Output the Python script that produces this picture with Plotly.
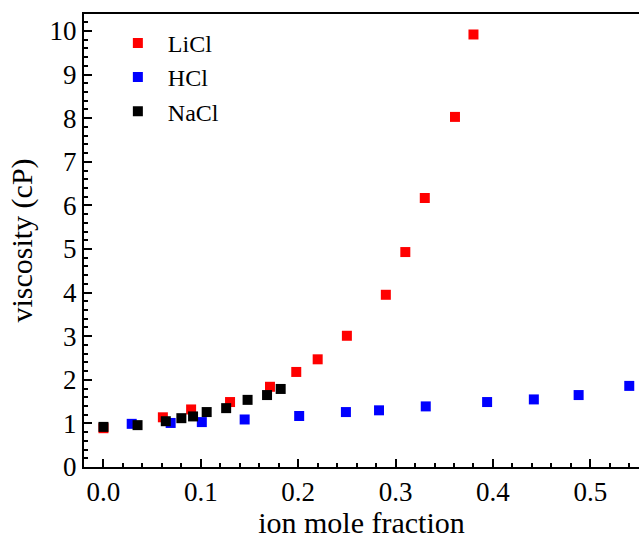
import plotly.graph_objects as go

licl_x = [0.0, 0.061, 0.090, 0.130, 0.171, 0.198, 0.220, 0.250, 0.290, 0.310, 0.330, 0.361, 0.380]
licl_y = [0.89, 1.14, 1.32, 1.49, 1.84, 2.18, 2.47, 3.01, 3.95, 4.93, 6.17, 8.03, 9.92]

hcl_x = [0.029, 0.069, 0.101, 0.145, 0.201, 0.249, 0.283, 0.331, 0.394, 0.442, 0.488, 0.540]
hcl_y = [0.99, 1.01, 1.03, 1.09, 1.17, 1.26, 1.30, 1.39, 1.49, 1.55, 1.65, 1.86]

nacl_x = [0.0, 0.035, 0.064, 0.080, 0.092, 0.106, 0.126, 0.148, 0.168, 0.182]
nacl_y = [0.92, 0.96, 1.05, 1.12, 1.16, 1.26, 1.35, 1.54, 1.65, 1.79]

x_ticks = [0.0, 0.1, 0.2, 0.3, 0.4, 0.5]
x_tick_labels = ["0.0", "0.1", "0.2", "0.3", "0.4", "0.5"]
y_ticks = list(range(0, 11))

FONT = "Liberation Serif, Times New Roman, serif"

fig = go.Figure()
for name, xs, ys, col in [("LiCl", licl_x, licl_y, "#ff0000"),
                          ("HCl", hcl_x, hcl_y, "#0000ff"),
                          ("NaCl", nacl_x, nacl_y, "#000000")]:
    fig.add_trace(go.Scatter(x=xs, y=ys, mode="markers", name=name,
                             marker=dict(symbol="square", size=10, color=col,
                                         line=dict(width=0))))

axis_common = dict(showline=True, linecolor="black", linewidth=2, ticks="inside",
                   tickwidth=2, ticklen=8, tickcolor="black", showgrid=False,
                   zeroline=False, tickfont=dict(family=FONT, size=27, color="black"))

fig.update_layout(
    width=639, height=539,
    margin=dict(l=84, r=0, t=14, b=72),
    paper_bgcolor="white", plot_bgcolor="white",
    font=dict(family=FONT, color="black"),
    xaxis=dict(range=[-0.02, 0.55], tickvals=x_ticks, ticktext=x_tick_labels,
               mirror=True,
               minor=dict(dtick=0.02, tick0=0, ticks="inside", ticklen=4,
                          tickwidth=2, tickcolor="black"),
               title=dict(text="ion mole fraction", font=dict(family=FONT, size=30),
                          standoff=7),
               **axis_common),
    yaxis=dict(range=[0, 10.39], tickvals=y_ticks,
               minor=dict(dtick=0.2, tick0=0, ticks="inside", ticklen=4,
                          tickwidth=2, tickcolor="black"),
               title=dict(text="viscosity (cP)", font=dict(family=FONT, size=30),
                          standoff=8),
               **axis_common),
    showlegend=True,
    legend=dict(x=0.043, y=0.985, xanchor="left", yanchor="top",
                font=dict(family=FONT, size=24, color="black"),
                bgcolor="rgba(0,0,0,0)", itemwidth=50),
)

fig.write_html("out.html")
